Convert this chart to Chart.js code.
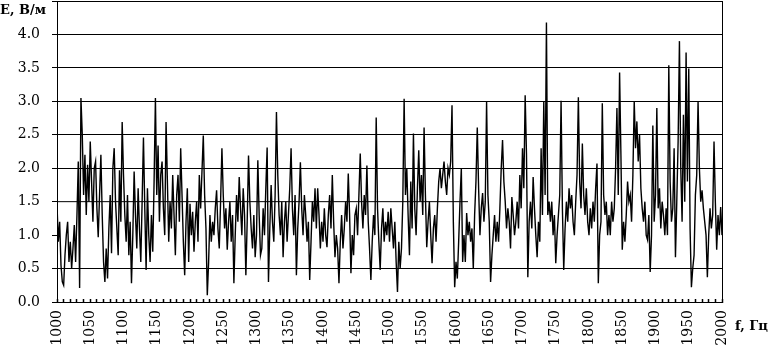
<!DOCTYPE html>
<html lang="ru">
<head>
    <meta charset="UTF-8">
    <title>E(f)</title>
    <script src="https://cdn.jsdelivr.net/npm/chart.js"></script>
    <style>
        html, body {
            margin: 0;
            padding: 0;
            background: #fff;
            overflow: hidden;
        }
        .wrap {
            position: relative;
            width: 770px;
            height: 348px;
        }
        .axis-title {
            position: absolute;
            font-family: "DejaVu Serif", serif;
            font-weight: bold;
            font-size: 13px;
            color: #000;
            white-space: nowrap;
        }
        #titleY { left: 0; top: 2px; }
        #titleX { left: 735px; top: 318px; }
    </style>
</head>
<body>
    <div class="wrap">
        <canvas id="chart"></canvas>
        <div class="axis-title" id="titleY">E, В/м</div>
        <div class="axis-title" id="titleX">f, Гц</div>
    </div>
    <script>
        // частота от 1000 с шагом 2
        const freqStart = 1000;
        const freqStep = 2;
        const yTicks = [0, 0.5, 1.0, 1.5, 2.0, 2.5, 3.0, 3.5, 4.0, 4.5];
        const xLabelStep = 50;
        const xMinorStep = 10;

        // E, В/м
        const fieldE = [
            1.45, 0.9, 1.2, 0.55, 0.3, 0.25, 0.7, 1.0, 1.2, 0.6, 0.9, 0.5, 0.8, 1.15, 0.6, 1.3, 2.1, 0.21, 3.05, 2.5, 1.6, 2.2, 1.3, 2.05, 1.5,
            2.4, 1.8, 1.2, 2.0, 2.1, 1.4, 0.97, 1.6, 2.2, 1.3, 0.6, 0.3, 0.8, 0.35, 1.1, 1.6, 0.73, 2.0, 2.3, 1.5, 1.1, 0.7, 1.97, 1.2, 2.69,
            1.9, 1.3, 0.9, 1.6, 0.7, 1.2, 0.28, 1.0, 1.95, 1.3, 0.8, 1.7, 1.1, 0.6, 1.5, 2.46, 1.4, 0.48, 1.7, 1.0, 0.6, 1.3, 0.75, 1.8, 3.05,
            1.6, 2.34, 1.2, 1.9, 2.1, 1.4, 1.0, 2.69, 1.8, 0.9, 1.5, 1.1, 1.9, 1.3, 0.7, 1.6, 1.9, 1.2, 2.3, 1.6, 0.9, 0.4, 1.2, 1.7, 0.6,
            1.47, 1.0, 1.35, 0.75, 1.2, 1.5, 0.9, 1.9, 1.4, 1.95, 2.49, 1.6, 1.1, 0.1, 0.6, 1.3, 0.9, 1.2, 1.0, 1.4, 1.67, 1.1, 0.8, 1.5, 2.3,
            1.6, 1.1, 1.4, 0.78, 1.2, 1.5, 0.9, 1.3, 0.28, 1.0, 1.6, 1.2, 1.87, 1.4, 1.0, 1.7, 1.3, 0.4, 1.2, 2.19, 1.5, 1.1, 0.8, 1.3, 0.67,
            1.0, 2.12, 1.3, 0.7, 0.8, 1.4, 1.0, 1.7, 2.31, 0.3, 1.1, 1.75, 1.2, 0.9, 1.6, 2.84, 1.9, 1.3, 1.0, 1.5, 0.67, 1.2, 1.5, 0.9, 1.3,
            1.7, 2.3, 1.4, 1.0, 1.6, 0.4, 1.1, 1.5, 2.09, 1.4, 1.0, 1.6, 1.3, 0.9, 1.2, 0.33, 0.9, 1.5, 1.2, 1.7, 1.1, 1.7, 1.3, 0.8, 1.2,
            0.9, 1.4, 1.0, 0.82, 1.3, 1.6, 1.1, 1.9, 1.2, 0.67, 1.0, 0.8, 0.28, 0.9, 1.3, 0.8, 1.1, 1.5, 1.2, 1.92, 1.3, 0.43, 1.0, 0.7, 1.3,
            1.4, 1.0, 1.6, 2.22, 1.5, 1.1, 1.6, 1.3, 2.04, 1.2, 0.8, 0.33, 0.9, 1.3, 1.0, 2.76, 1.4, 0.9, 0.48, 1.1, 1.4, 0.9, 1.2, 1.0, 1.35,
            0.9, 1.4, 1.1, 0.8, 1.2, 0.6, 0.15, 0.9, 0.5, 0.8, 1.5, 3.04, 1.6, 2.0, 1.3, 0.7, 1.8, 1.1, 2.52, 1.4, 1.0, 1.7, 2.27, 1.5, 1.9,
            1.3, 2.61, 1.6, 0.82, 1.2, 1.5, 1.0, 0.58, 1.1, 1.3, 0.9, 1.4, 1.8, 2.0, 1.7, 1.9, 2.1, 1.8, 1.6, 2.0, 1.9, 2.1, 2.94, 1.2, 0.22,
            0.6, 0.35, 0.9, 1.5, 2.0, 0.6, 1.0, 0.6, 1.33, 1.0, 1.2, 0.9, 1.1, 0.5, 1.3, 1.8, 2.61, 1.7, 1.0, 1.4, 1.63, 1.2, 1.5, 2.99, 1.6,
            1.2, 0.3, 0.7, 1.0, 1.3, 0.9, 1.2, 0.9, 1.4, 2.0, 2.42, 1.8, 1.5, 1.1, 1.4, 1.2, 0.8, 1.57, 1.3, 1.0, 1.2, 1.5, 1.1, 1.9, 1.4,
            2.3, 1.7, 3.09, 2.2, 0.37, 1.2, 1.5, 1.1, 1.87, 1.4, 1.0, 0.67, 1.2, 0.9, 2.3, 1.3, 3.0, 1.6, 4.18, 1.3, 1.5, 1.2, 1.5, 1.0, 1.3,
            0.58, 1.0, 1.3, 1.6, 3.01, 1.4, 0.48, 1.1, 1.5, 1.2, 1.7, 1.4, 1.6, 1.2, 1.0, 1.5, 1.9, 3.06, 1.8, 1.4, 2.37, 1.6, 1.3, 1.7, 1.2,
            1.0, 1.4, 1.1, 1.5, 1.2, 1.7, 2.07, 0.28, 1.0, 1.2, 2.97, 1.6, 1.3, 1.5, 1.0, 1.3, 1.0, 1.5, 1.2, 1.4, 2.0, 2.9, 1.6, 3.43, 2.2,
            0.78, 1.2, 0.9, 1.3, 1.8, 1.5, 1.6, 1.2, 1.9, 3.0, 2.3, 2.7, 2.1, 2.5, 1.7, 1.4, 1.2, 1.5, 1.0, 0.93, 1.3, 0.45, 1.0, 2.64, 1.2,
            1.6, 2.9, 1.4, 1.7, 1.1, 1.5, 1.3, 1.0, 1.4, 1.0, 3.54, 1.8, 1.2, 1.4, 2.3, 0.67, 1.5, 2.4, 3.9, 2.0, 1.2, 2.8, 1.5, 3.73, 1.8,
            3.49, 1.1, 0.22, 0.5, 0.7, 1.6, 1.9, 3.0, 2.0, 1.5, 1.67, 1.4, 1.2, 1.0, 0.37, 1.0, 1.4, 1.1, 1.3, 2.4, 1.5, 0.78, 1.3, 1.0, 1.42, 1.0
        ];

        // обрывок линии сетки на уровне 1.5 (на скане идёт только до ~1618)
        const partialGridF = [1000, 1618];
        const partialGridE = [1.5, 1.5];

        const hiddenGrid = [1.0, 1.5];

        const serif = { family: 'DejaVu Serif', size: 14 };

        const framePlugin = {
            id: 'frame',
            afterDraw(chart) {
                const a = chart.chartArea;
                const ctx = chart.ctx;
                ctx.save();
                ctx.strokeStyle = '#000';
                ctx.lineWidth = 1;
                ctx.beginPath();
                ctx.moveTo(Math.round(a.right) + 0.5, a.top);
                ctx.lineTo(Math.round(a.right) + 0.5, a.bottom);
                ctx.stroke();
                ctx.restore();
            }
        };

        const ctx = document.getElementById('chart').getContext('2d');
        new Chart(ctx, {
            type: 'line',
            data: {
                datasets: [
                    {
                        data: fieldE.map((v, i) => ({ x: freqStart + i * freqStep, y: v })),
                        borderColor: '#000',
                        borderWidth: 1.4,
                        pointRadius: 0,
                        fill: false,
                        tension: 0
                    },
                    {
                        data: partialGridF.map((f, i) => ({ x: f, y: partialGridE[i] })),
                        borderColor: '#000',
                        borderWidth: 1,
                        pointRadius: 0,
                        fill: false
                    }
                ]
            },
            options: {
                responsive: true,
                maintainAspectRatio: false,
                animation: false,
                layout: { padding: { left: 0, top: 1, right: 48, bottom: 0 } },
                plugins: {
                    legend: { display: false },
                    tooltip: { enabled: false }
                },
                scales: {
                    x: {
                        type: 'linear',
                        min: 1000,
                        max: 2000,
                        afterFit: s => {
                            s.height = 46;
                            s.paddingLeft = 0;
                            s.paddingRight = 0;
                        },
                        border: { color: '#000', width: 1 },
                        // мелкие засечки внутрь поля графика
                        grid: { drawOnChartArea: false, color: '#000', tickLength: -3, tickWidth: 1.5 },
                        ticks: {
                            stepSize: xMinorStep,
                            autoSkip: false,
                            minRotation: 90,
                            maxRotation: 90,
                            padding: 11,
                            color: '#000',
                            font: serif,
                            callback: v => v % xLabelStep === 0 ? String(v) : ''
                        }
                    },
                    y: {
                        min: 0,
                        max: 4.5,
                        afterFit: s => {
                            s.width = 57;
                            s.paddingTop = 0;
                            s.paddingBottom = 0;
                        },
                        afterBuildTicks: s => { s.ticks = yTicks.map(v => ({ value: v })); },
                        border: { color: '#000', width: 1 },
                        grid: {
                            color: c => hiddenGrid.includes(c.tick && c.tick.value) ? 'rgba(0,0,0,0)' : '#000',
                            tickColor: '#000',
                            tickLength: 5
                        },
                        ticks: {
                            padding: 12,
                            color: '#000',
                            font: serif,
                            callback: v => v === 4.5 ? '' : v.toFixed(1)
                        }
                    }
                }
            },
            plugins: [framePlugin]
        });
    </script>
</body>
</html>
